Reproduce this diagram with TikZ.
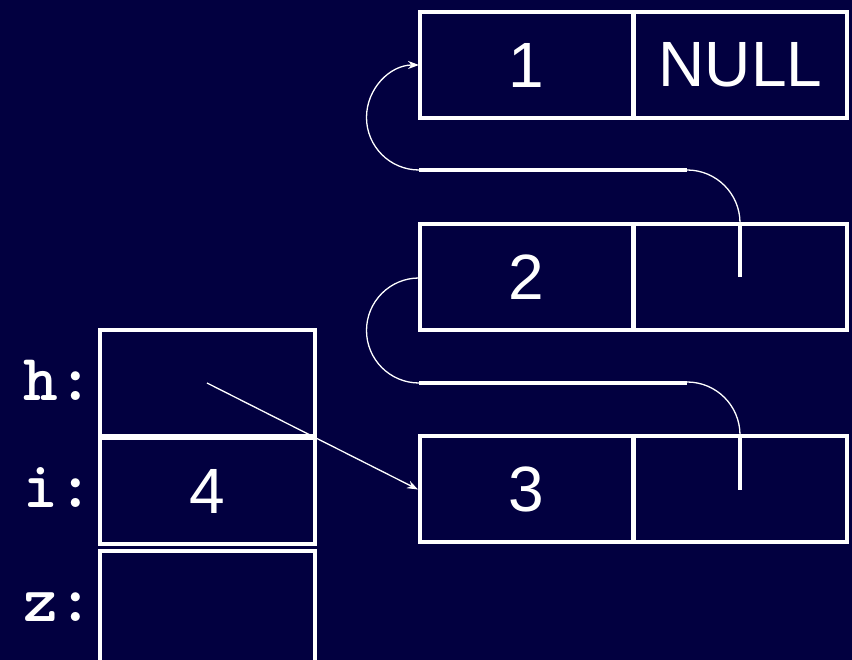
\documentclass[tikz,border=0pt]{standalone}
\usepackage{fontspec}
\setmainfont{Liberation Sans}
\usetikzlibrary{arrows.meta}
\definecolor{navy}{RGB}{2,0,64}
\begin{document}
\begin{tikzpicture}[x=1pt,y=1pt,
  cell/.style={draw=white,line width=4pt,minimum width=213pt,minimum height=106pt,
    inner sep=0pt,text=white,font=\fontsize{64}{64}\selectfont},
  var/.style={cell,minimum width=215pt},
  varname/.style={text=white,anchor=east,inner sep=0pt,font=\ttfamily\bfseries\fontsize{66}{66}\selectfont},
  bar/.style={white,line width=4pt},
  link/.style={white,line width=1.3pt},
  tip/.style={-{Stealth[length=11pt,width=8pt]}}]
\useasboundingbox (0,0) rectangle (852,660);
\fill[navy] (0,0) rectangle (852,660);

% list cells: data field and next field
\node[cell] (d1) at (526.5,595) {1};
\node[cell] (n1) at (740.5,595) {NULL};
\node[cell] (d2) at (526.5,383) {2};
\node[cell] (n2) at (740.5,383) {};
\node[cell] (d3) at (526.5,170.5) {3};
\node[cell] (n3) at (740.5,170.5) {};

% variables
\node[var] (h) at (207.5,277) {};
\node[var] (i) at (207.5,169) {4};
\node[var,minimum height=119pt] (z) at (207.5,49.5) {};
\node[varname] (hl) at (93,280) {h:};
\node[varname] (il) at (93,172) {i:};
\node[varname] (zl) at (93,53) {z:};

% next pointer of node 2 -> node 1
\coordinate (p2) at (740,383);
\coordinate (r2) at (687,490);
\coordinate (s2) at (419,490);
\draw[bar] (p2) -- (740,437);
\draw[link] (740,437) arc[start angle=0,end angle=90,radius=53];
\draw[bar] (r2) -- (s2);
\draw[link,tip] (s2) arc[start angle=-90,end angle=-270,radius=52.5];

% next pointer of node 3 -> node 2
\coordinate (p3) at (740,170);
\coordinate (r3) at (687,277);
\coordinate (s3) at (419,277);
\draw[bar] (p3) -- (740,225);
\draw[link] (740,225) arc[start angle=0,end angle=90,radius=53];
\draw[bar] (r3) -- (s3);
\draw[link] (s3) arc[start angle=-90,end angle=-270,radius=52.5];

% h points to node 3
\coordinate (hp) at (207,277);
\draw[link,tip] (hp) -- (d3.west);
\end{tikzpicture}
\end{document}
